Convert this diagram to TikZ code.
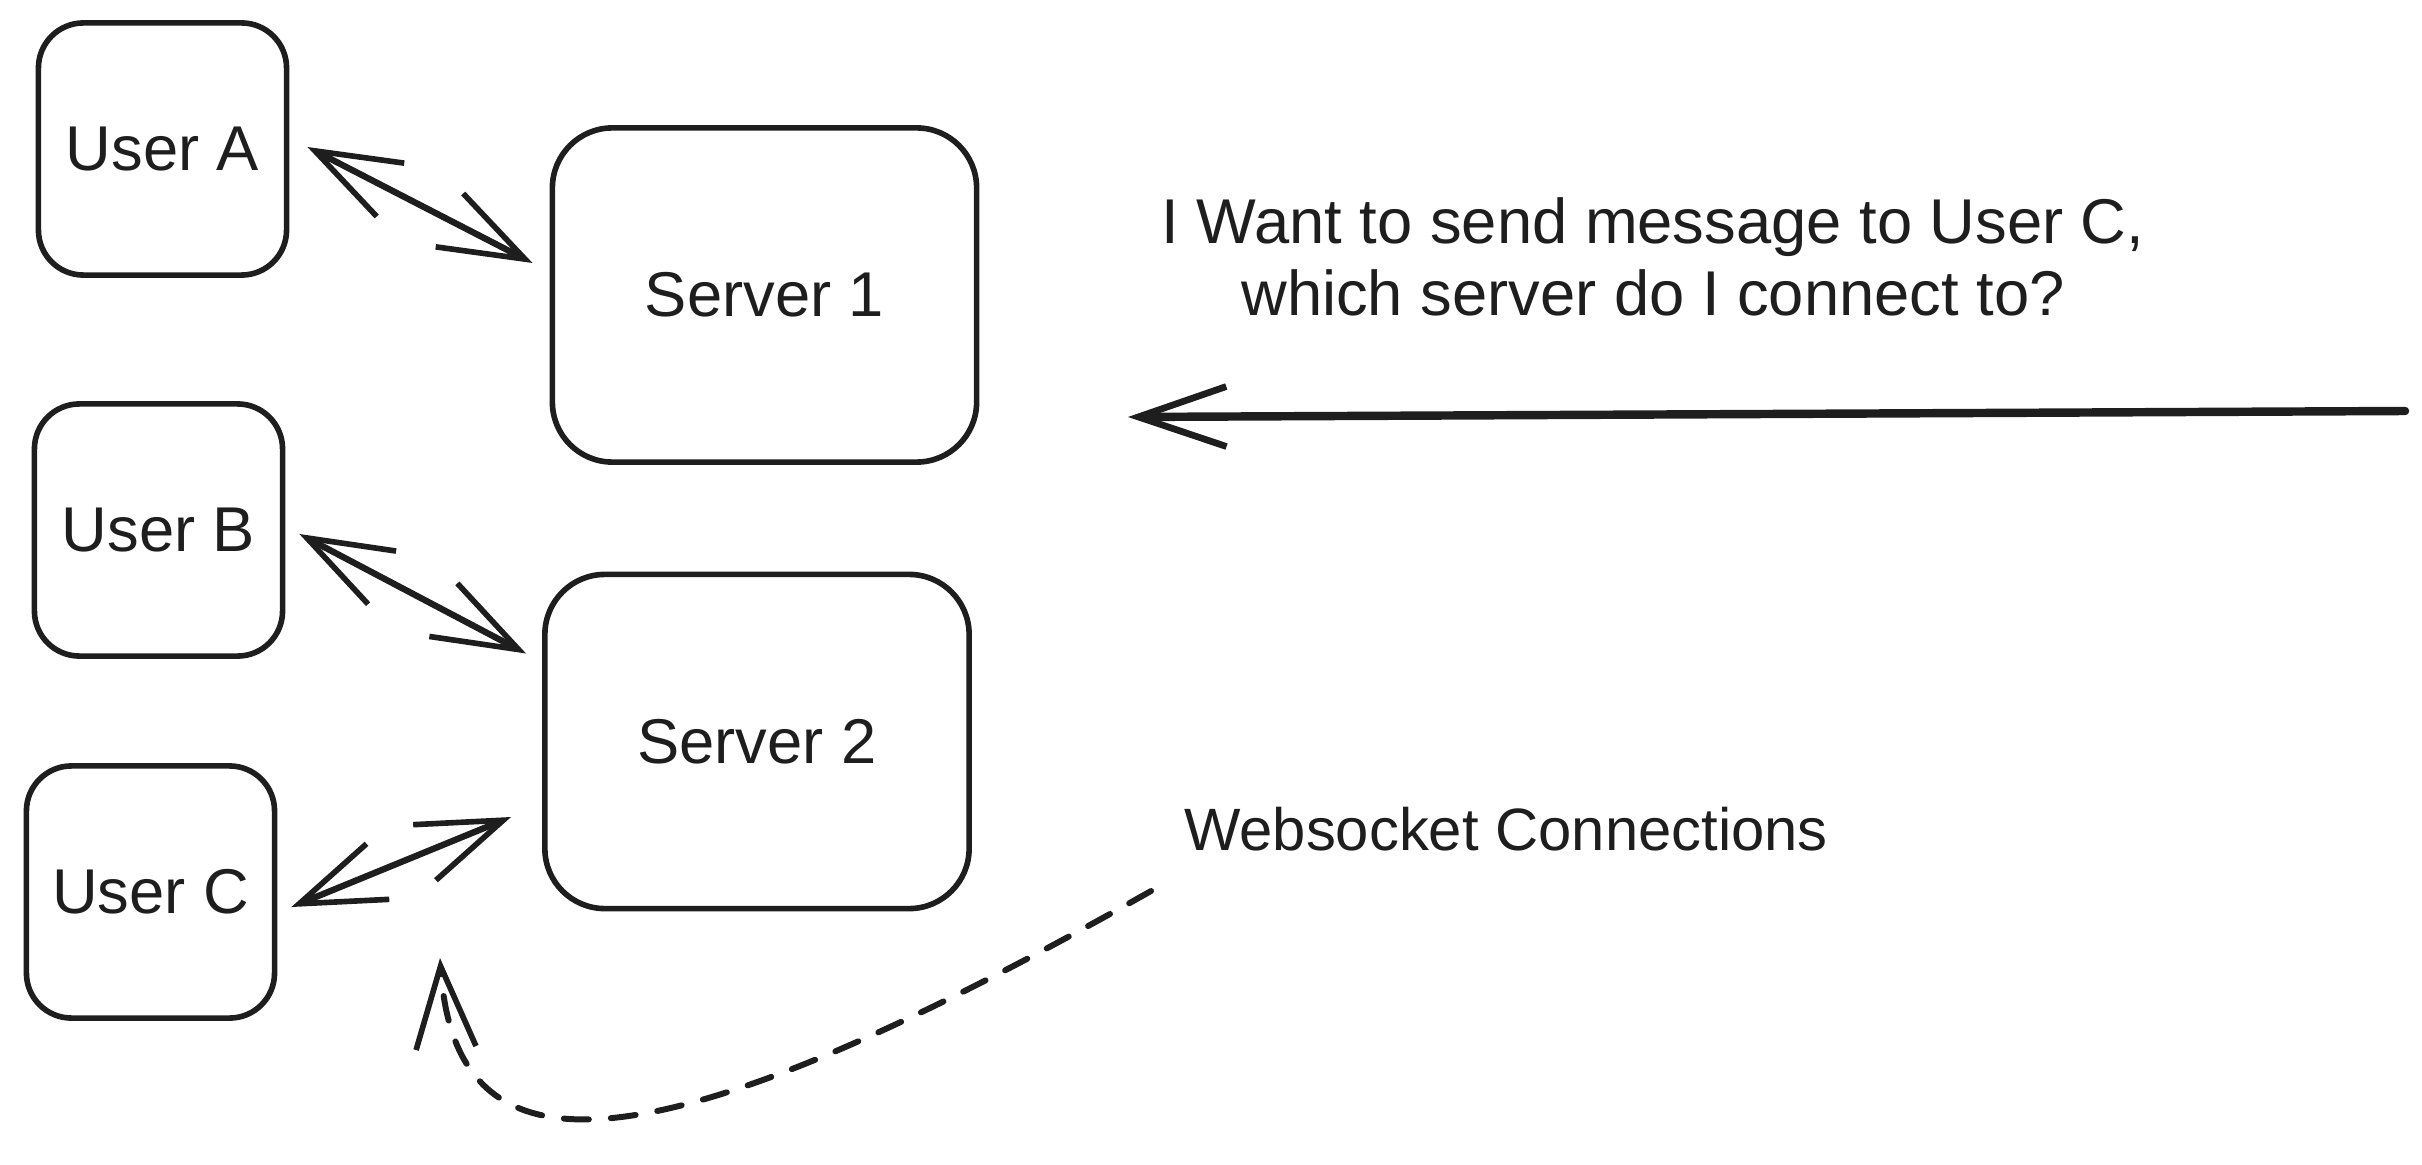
\documentclass[tikz,border=0pt]{standalone}
\usepackage{fontspec}
\setmainfont{Liberation Sans}
\usetikzlibrary{arrows.meta,calc}
\definecolor{ink}{HTML}{1E1E1E}
\tikzset{
  hb/.tip={Straight Barb[length=0.85cm, width=0.6cm, line width=1.6pt]},
  hbig/.tip={Straight Barb[length=0.88cm, width=0.6cm, line width=1.9pt]},
  hdash/.tip={Straight Barb[length=0.82cm, width=0.6cm, line width=1.6pt]}
}
\begin{document}
\begin{tikzpicture}[x=0.01cm,y=-0.01cm,
  every node/.style={text=ink},
  userbox/.style={draw=ink, line width=1.6pt, rounded corners=0.45cm, minimum width=2.48cm, minimum height=2.52cm, font=\fontsize{18}{20}\selectfont},
  serverbox/.style={draw=ink, line width=1.6pt, rounded corners=0.6cm, minimum width=4.24cm, minimum height=3.34cm, font=\fontsize{18}{20}\selectfont},
  link/.style={draw=ink, line width=1.8pt, line cap=round, hb-hb},
  label/.style={font=\fontsize{18}{20.5}\selectfont, align=center}
]
\useasboundingbox (0,0) rectangle (2422,1164);

\node[userbox] (ua) at (162.5,149) {User A};
\node[userbox] (ub) at (158.5,530) {User B};
\node[userbox] (uc) at (150.5,892) {User C};
\node[serverbox] (s1) at (764.5,295) {Server 1};
\node[serverbox] (s2) at (757,741.5) {Server 2};

\node[label] (q) at (1653,257) {I Want to send message to User C,\\which server do I connect to?};
\node[label, font=\fontsize{17}{20}\selectfont] (ws) at (1506,829) {Websocket Connections};

\coordinate (a1) at ($(ua.east)+(18,-2)$);
\coordinate (a2) at ($(s1.west)+(-17,-32)$);
\coordinate (b1) at ($(ub.east)+(14,4)$);
\coordinate (b2) at ($(s2.west)+(-16,-88)$);
\coordinate (c1) at ($(uc.east)+(14,15)$);
\coordinate (c2) at ($(s2.west)+(-31,75.5)$);

\draw[link] (a1) -- (a2);
\draw[link] (b1) -- (b2);
\draw[link] (c1) -- (c2);

\coordinate (qs) at (2405,411);
\coordinate (qe) at (1128,417);
\draw[draw=ink, line width=2.4pt, line cap=round, -hbig] (qs) -- (qe);

\coordinate (ds) at (1151,891);
\coordinate (de) at (440,958);
\draw[draw=ink, line width=1.7pt, line cap=round, dash pattern=on 0.25cm off 0.22cm, -hdash]
  (ds) .. controls (640,1180) and (455,1182) .. (de);
\end{tikzpicture}
\end{document}
